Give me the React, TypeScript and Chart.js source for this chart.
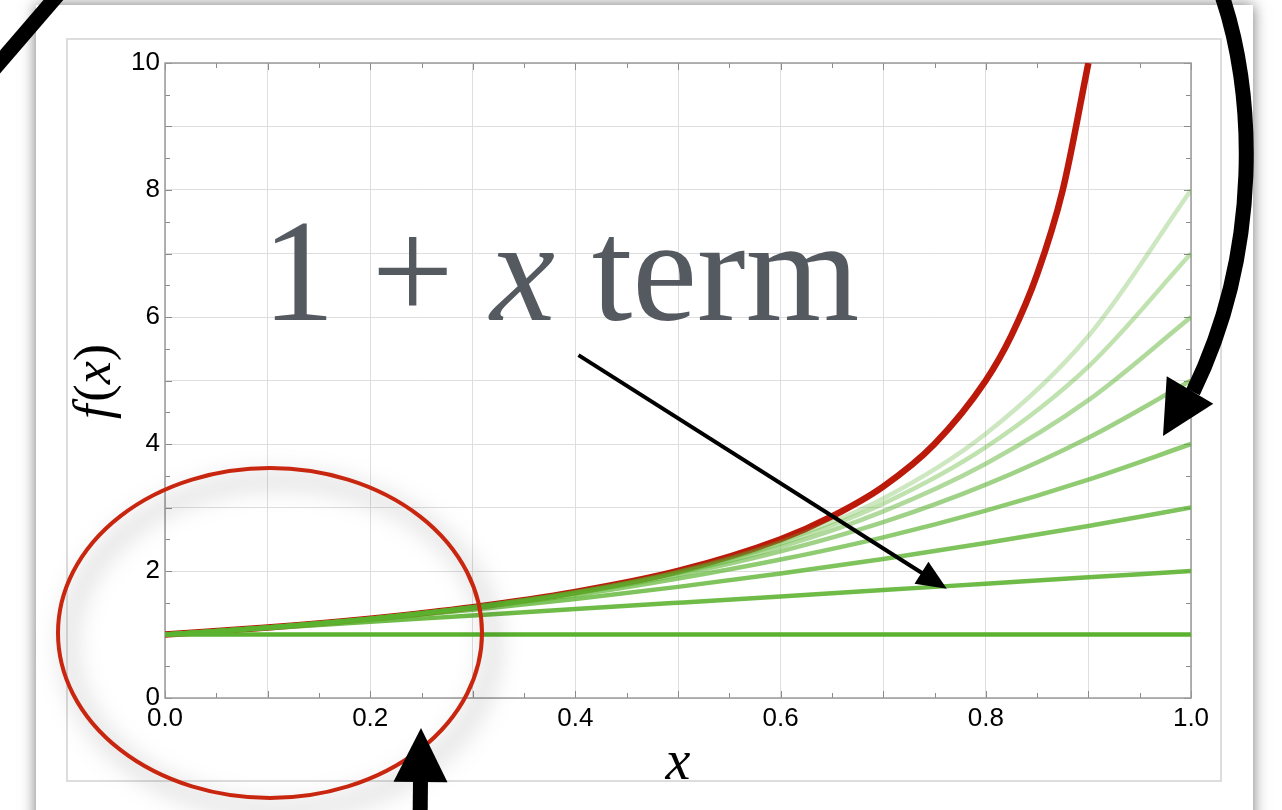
import { useEffect, useRef } from 'react';
import { Chart, registerables } from 'chart.js';

Chart.register(...registerables);

// Sample positions along x for the partial sums
const X_SAMPLES = [0, 0.1, 0.2, 0.3, 0.4, 0.5, 0.6, 0.7, 0.8, 0.9, 1.0];

// Partial sums 1, 1 + x, 1 + x + x², ... read at the sample positions
const TERM0 = [1, 1, 1, 1, 1, 1, 1, 1, 1, 1, 1];
const TERM1 = [1, 1.1, 1.2, 1.3, 1.4, 1.5, 1.6, 1.7, 1.8, 1.9, 2];
const TERM2 = [1, 1.11, 1.24, 1.39, 1.56, 1.75, 1.96, 2.19, 2.44, 2.71, 3];
const TERM3 = [1, 1.11, 1.25, 1.42, 1.62, 1.88, 2.18, 2.53, 2.95, 3.44, 4];
const TERM4 = [1, 1.11, 1.25, 1.43, 1.65, 1.94, 2.31, 2.77, 3.36, 4.1, 5];
const TERM5 = [1, 1.11, 1.25, 1.43, 1.66, 1.97, 2.38, 2.94, 3.69, 4.69, 6];
const TERM6 = [1, 1.11, 1.25, 1.43, 1.66, 1.98, 2.43, 3.06, 3.95, 5.22, 7];
const TERM7 = [1, 1.11, 1.25, 1.43, 1.67, 1.99, 2.46, 3.14, 4.16, 5.7, 8];
const PARTIAL_SUMS = [TERM0, TERM1, TERM2, TERM3, TERM4, TERM5, TERM6, TERM7];

// The full function f(x) = 1 / (1 - x)
const EXACT_X = [0, 0.1, 0.2, 0.3, 0.4, 0.5, 0.6, 0.65, 0.7, 0.75, 0.8, 0.825, 0.85, 0.875, 0.9];
const EXACT_Y = [1, 1.11, 1.25, 1.43, 1.67, 2, 2.5, 2.86, 3.33, 4, 5, 5.71, 6.67, 8, 10];

// Tick labels
const X_TICK_LABELS = ['0.0', '0.2', '0.4', '0.6', '0.8', '1.0'];
const Y_TICK_LABELS = ['0', '2', '4', '6', '8', '10'];

// Opacity of each successive partial sum
const TERM_ALPHAS = [1, 0.88, 0.78, 0.68, 0.58, 0.48, 0.38, 0.3];

const W = 1282;
const H = 810;
const SERIF = '"Liberation Serif", "DejaVu Serif", serif';
const SANS = '"Liberation Sans", Arial, sans-serif';

type Pt = [number, number];

function arrowHead(ctx: CanvasRenderingContext2D, base: Pt, tip: Pt, halfW: number) {
  const dx = tip[0] - base[0];
  const dy = tip[1] - base[1];
  const len = Math.hypot(dx, dy);
  const nx = -dy / len;
  const ny = dx / len;
  ctx.beginPath();
  ctx.moveTo(tip[0], tip[1]);
  ctx.lineTo(base[0] + nx * halfW, base[1] + ny * halfW);
  ctx.lineTo(base[0] - nx * halfW, base[1] - ny * halfW);
  ctx.closePath();
  ctx.fill();
}

function straightArrow(
  ctx: CanvasRenderingContext2D,
  from: Pt,
  tip: Pt,
  headLen: number,
  halfW: number,
  shaftW: number
) {
  const dx = tip[0] - from[0];
  const dy = tip[1] - from[1];
  const len = Math.hypot(dx, dy);
  const ux = dx / len;
  const uy = dy / len;
  const base: Pt = [tip[0] - ux * headLen, tip[1] - uy * headLen];
  ctx.lineWidth = shaftW;
  ctx.lineCap = 'butt';
  ctx.beginPath();
  ctx.moveTo(from[0], from[1]);
  ctx.lineTo(base[0] + ux * 2, base[1] + uy * 2);
  ctx.stroke();
  arrowHead(ctx, base, tip, halfW);
}

const backdrop = {
  id: 'backdrop',
  beforeDraw(chart: Chart) {
    const ctx = chart.ctx;
    ctx.save();
    ctx.fillStyle = '#ffffff';
    ctx.fillRect(0, 0, W, H);
    // card with soft shadow
    ctx.shadowColor = 'rgba(0,0,0,0.55)';
    ctx.shadowBlur = 14;
    ctx.fillStyle = '#ffffff';
    ctx.fillRect(36, 5, 1217, 900);
    ctx.shadowColor = 'transparent';
    // inner frame around the plot
    ctx.strokeStyle = '#dddddd';
    ctx.lineWidth = 2;
    ctx.strokeRect(67, 39, 1154, 742);
    ctx.restore();
  },
};

const frameAndTicks = {
  id: 'frameAndTicks',
  beforeDatasetsDraw(chart: Chart) {
    const ctx = chart.ctx;
    const { left, right, top, bottom } = chart.chartArea;
    const xs = chart.scales.x;
    const ys = chart.scales.y;
    ctx.save();
    ctx.strokeStyle = '#8a8a8a';
    ctx.lineWidth = 1;
    for (let i = 0; i <= 20; i++) {
      const px = Math.round(xs.getPixelForValue(i * 0.05)) + 0.5;
      const len = i % 2 === 0 ? 7 : 5;
      ctx.beginPath();
      ctx.moveTo(px, bottom);
      ctx.lineTo(px, bottom - len);
      ctx.moveTo(px, top);
      ctx.lineTo(px, top + len);
      ctx.stroke();
    }
    for (let i = 0; i <= 20; i++) {
      const py = Math.round(ys.getPixelForValue(i * 0.5)) + 0.5;
      const len = i % 2 === 0 ? 7 : 5;
      ctx.beginPath();
      ctx.moveTo(left, py);
      ctx.lineTo(left + len, py);
      ctx.moveTo(right, py);
      ctx.lineTo(right - len, py);
      ctx.stroke();
    }
    ctx.strokeStyle = '#9a9a9a';
    ctx.lineWidth = 1.5;
    ctx.strokeRect(left, top, right - left, bottom - top);
    ctx.restore();
  },
};

const annotations = {
  id: 'annotations',
  afterDraw(chart: Chart) {
    const ctx = chart.ctx;
    const xs = chart.scales.x;
    const ys = chart.scales.y;
    const P = (x: number, y: number): Pt => [xs.getPixelForValue(x), ys.getPixelForValue(y)];
    ctx.save();

    // axis titles
    ctx.fillStyle = '#000000';
    ctx.textBaseline = 'alphabetic';
    ctx.font = `italic 56px ${SERIF}`;
    ctx.textAlign = 'center';
    ctx.fillText('x', 678, 779);

    ctx.save();
    ctx.translate(110, 383);
    ctx.rotate(-Math.PI / 2);
    const parts: [string, string][] = [
      ['f', `italic 52px ${SERIF}`],
      ['(', `52px ${SERIF}`],
      ['x', `italic 52px ${SERIF}`],
      [')', `52px ${SERIF}`],
    ];
    let total = 0;
    for (const [t, f] of parts) {
      ctx.font = f;
      total += ctx.measureText(t).width;
    }
    let cx = -total / 2;
    ctx.textAlign = 'left';
    for (const [t, f] of parts) {
      ctx.font = f;
      ctx.fillText(t, cx, 0);
      cx += ctx.measureText(t).width + (t === 'f' ? 3 : 0);
    }
    ctx.restore();

    // big caption "1 + x term"
    ctx.fillStyle = '#555a60';
    ctx.textAlign = 'left';
    const capParts: [string, string][] = [
      ['1 + ', `146px ${SERIF}`],
      ['x', `italic 146px ${SERIF}`],
      [' term', `146px ${SERIF}`],
    ];
    let tx = 262;
    for (const [t, f] of capParts) {
      ctx.font = f;
      ctx.fillText(t, tx, 320);
      tx += ctx.measureText(t).width;
    }

    // thin arrow pointing at the 1 + x curve
    ctx.fillStyle = '#000000';
    ctx.strokeStyle = '#000000';
    straightArrow(ctx, P(0.403, 5.4), P(0.762, 1.72), 30, 13, 4);

    // red ellipse around the region near x = 0, with a soft shadow
    ctx.save();
    ctx.shadowColor = 'rgba(0,0,0,0.5)';
    ctx.shadowBlur = 24;
    ctx.shadowOffsetX = 10;
    ctx.shadowOffsetY = 12;
    ctx.strokeStyle = '#c9260f';
    ctx.lineWidth = 4;
    ctx.beginPath();
    ctx.ellipse(270, 633, 212, 165, 0, 0, Math.PI * 2);
    ctx.stroke();
    ctx.restore();

    // thick arrow rising from the bottom edge
    ctx.fillStyle = '#000000';
    ctx.strokeStyle = '#000000';
    straightArrow(ctx, [420, 830], [421, 728], 54, 27, 15);

    // thick curved arrow sweeping down the right side
    ctx.lineWidth = 15;
    ctx.lineCap = 'butt';
    ctx.beginPath();
    ctx.moveTo(1220, -10);
    ctx.bezierCurveTo(1256, 90, 1262, 250, 1193, 392);
    ctx.stroke();
    arrowHead(ctx, [1190, 390], [1163, 436], 27);

    // thick stroke entering at the top-left corner
    ctx.lineWidth = 15;
    ctx.beginPath();
    ctx.moveTo(-12, 76);
    ctx.lineTo(62, -10);
    ctx.stroke();

    ctx.restore();
  },
};

export default function App() {
  const canvasRef = useRef<HTMLCanvasElement | null>(null);

  useEffect(() => {
    const canvas = canvasRef.current;
    if (!canvas) return;

    const greenDatasets = PARTIAL_SUMS.map((values, i) => ({
      label: `S${i}`,
      data: X_SAMPLES.map((x, k) => ({ x, y: values[k] })),
      borderColor: `rgba(90, 178, 46, ${TERM_ALPHAS[i]})`,
      borderWidth: 4.5,
      pointRadius: 0,
      cubicInterpolationMode: 'monotone' as const,
      fill: false,
    }));

    const exactDataset = {
      label: 'f',
      data: EXACT_X.map((x, k) => ({ x, y: EXACT_Y[k] })),
      borderColor: '#bb1a0b',
      borderWidth: 6.5,
      pointRadius: 0,
      cubicInterpolationMode: 'monotone' as const,
      fill: false,
    };

    const chart = new Chart(canvas, {
      type: 'line',
      data: { datasets: [...greenDatasets, exactDataset] },
      options: {
        responsive: false,
        animation: false,
        events: [],
        layout: { padding: { left: 0, top: 63, right: 91, bottom: 0 } },
        plugins: {
          legend: { display: false },
          tooltip: { enabled: false },
        },
        scales: {
          x: {
            type: 'linear',
            min: 0,
            max: 1,
            afterFit(scale: any) {
              scale.height = 112;
            },
            border: { display: false },
            grid: { color: '#dedede', lineWidth: 1, drawTicks: false },
            ticks: {
              stepSize: 0.1,
              autoSkip: false,
              maxRotation: 0,
              padding: 5,
              color: '#000000',
              font: { family: SANS, size: 26 },
              callback: (v: any) => {
                const label = Number(v).toFixed(1);
                return X_TICK_LABELS.includes(label) ? label : '';
              },
            },
          },
          y: {
            type: 'linear',
            min: 0,
            max: 10,
            afterFit(scale: any) {
              scale.width = 165;
            },
            border: { display: false },
            grid: { color: '#dedede', lineWidth: 1, drawTicks: false },
            ticks: {
              stepSize: 1,
              autoSkip: false,
              padding: 5,
              color: '#000000',
              font: { family: SANS, size: 26 },
              callback: (v: any) => {
                const label = String(Math.round(Number(v)));
                return Y_TICK_LABELS.includes(label) ? label : '';
              },
            },
          },
        },
      },
      plugins: [backdrop, frameAndTicks, annotations],
    });

    return () => chart.destroy();
  }, []);

  return (
    <div style={{ position: 'fixed', left: 0, top: 0, width: W, height: H, background: '#fff' }}>
      <canvas ref={canvasRef} width={W} height={H} style={{ display: 'block', width: W, height: H }} />
    </div>
  );
}
